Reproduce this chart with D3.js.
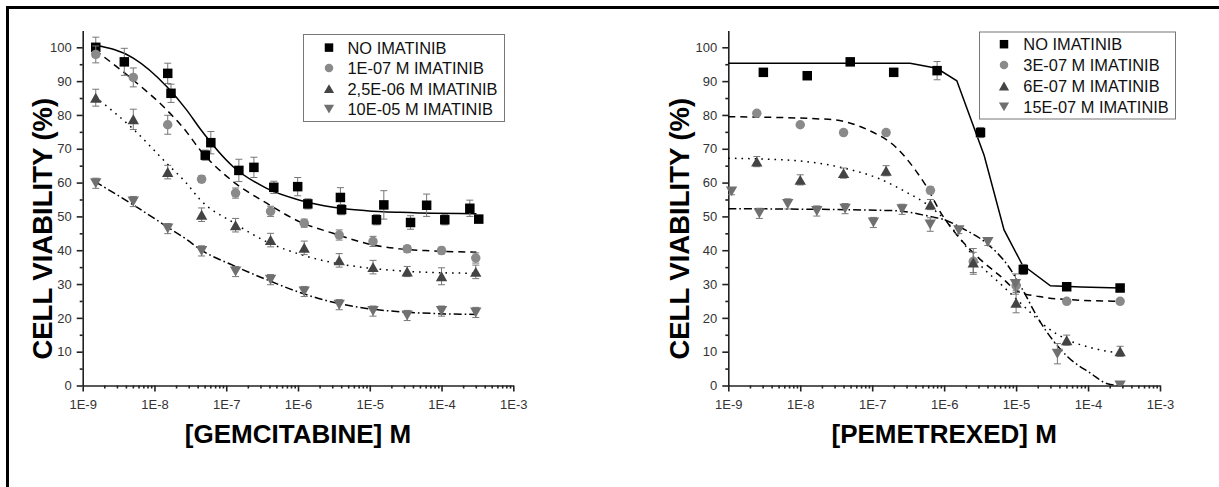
<!DOCTYPE html>
<html><head><meta charset="utf-8">
<script src="https://cdn.jsdelivr.net/npm/d3@7"></script>
<style>
body{margin:0;background:#fff}
svg{display:block}
text{font-family:"Liberation Sans",Arial,Helvetica,sans-serif}
</style>
</head><body>
<svg id="c" width="1219" height="487"></svg>
<script>
// ---------------- DATA ----------------
const xTickValues = [1e-9, 1e-8, 1e-7, 1e-6, 1e-5, 1e-4, 1e-3];
const xTickLabels = ["1E-9", "1E-8", "1E-7", "1E-6", "1E-5", "1E-4", "1E-3"];
const yTickValues = [0, 10, 20, 30, 40, 50, 60, 70, 80, 90, 100];
const yMinorValues = [5, 15, 25, 35, 45, 55, 65, 75, 85, 95];

const yTitle = "CELL VIABILITY (%)";
const gemTitle = "[GEMCITABINE] M";
const pemTitle = "[PEMETREXED] M";

const gemLegend = ["NO IMATINIB", "1E-07 M IMATINIB", "2,5E-06 M IMATINIB", "10E-05 M IMATINIB"];
const pemLegend = ["NO IMATINIB", "3E-07 M IMATINIB", "6E-07 M IMATINIB", "15E-07 M IMATINIB"];

// Gemcitabine panel
const gemNoImaConc = [1.52e-9, 3.8e-9, 1.53e-8, 1.7e-8, 5.1e-8, 6.1e-8, 1.5e-7, 2.43e-7, 4.6e-7, 9.9e-7, 1.37e-6, 3.9e-6, 4.05e-6, 1.24e-5, 1.57e-5, 3.7e-5, 6.2e-5, 1.11e-4, 2.48e-4, 3.3e-4];
const gemNoIma    = [100, 95.7, 92.3, 86.4, 68.1, 71.8, 63.6, 64.5, 58.6, 58.8, 53.7, 55.6, 52.0, 49.0, 53.4, 48.2, 53.3, 49.0, 52.4, 49.2];
const gemNoImaErr = [3, 4, 3, 2.7, 1.5, 3.3, 3.3, 3, 1.8, 2.7, 1.5, 2.9, 1.5, 1.5, 4.2, 2, 3.3, 1.5, 2.4, 1];

const gemConc   = [1.52e-9, 5.07e-9, 1.53e-8, 4.54e-8, 1.35e-7, 4.15e-7, 1.22e-6, 3.75e-6, 1.11e-5, 3.32e-5, 1.0e-4, 3.0e-4];
const gemIma1   = [97.9, 91.1, 77.1, 61.0, 56.9, 51.5, 48.0, 44.5, 42.6, 40.4, 39.9, 37.7];
const gemIma1Err= [2.5, 2.8, 2.8, 1, 1.5, 1.5, 1.2, 1.5, 1.5, 1, 1, 1.5];
const gemIma2   = [85.1, 78.7, 63.1, 50.5, 47.4, 43.0, 40.7, 37.0, 35.0, 33.7, 32.3, 33.6];
const gemIma2Err= [2.5, 3, 2, 2, 2, 2, 2, 2, 2, 1.5, 2.5, 2];
const gemIma3   = [59.8, 54.4, 46.4, 39.8, 33.7, 31.3, 27.8, 23.9, 22.0, 20.7, 22.0, 21.6];
const gemIma3Err= [1.5, 1.5, 1.5, 1.5, 1.5, 1.5, 1.5, 1.5, 1.5, 1.5, 1.5, 1.5];

const gemFitConc    = [1.48e-9, 5.07e-9, 1.48e-8, 2.8e-8, 4.3e-8, 1.25e-7, 3.66e-7, 1.06e-6, 3.09e-6, 9.0e-6, 2.62e-5, 7.6e-5, 3.07e-4];
const gemFitNoIma   = [100.7, 96.8, 88.4, 81.5, 76.0, 64.7, 58.3, 54.8, 52.7, 51.7, 51.2, 50.9, 50.8];
const gemFitIma1    = [99.2, 90.3, 81.5, 75.0, 69.7, 60.3, 53.9, 48.4, 45.0, 42.0, 40.4, 39.8, 39.4];
const gemFitIma2    = [85.4, 75.8, 65.7, 59.8, 55.0, 48.2, 42.5, 38.8, 36.3, 34.8, 33.9, 33.4, 33.2];
const gemFitIma3    = [60.3, 53.4, 47.0, 43.2, 40.3, 35.5, 31.3, 27.5, 24.6, 22.8, 21.8, 21.3, 21.0];

// Pemetrexed panel
const pemNoImaConc = [3.07e-9, 1.25e-8, 4.95e-8, 1.99e-7, 7.98e-7, 3.2e-6, 1.26e-5, 5.05e-5, 2.79e-4];
const pemNoIma     = [92.6, 91.6, 95.7, 92.6, 93.1, 74.8, 34.3, 29.2, 28.8];
const pemNoImaErr  = [0.5, 0.5, 0.5, 0.5, 2.7, 1.5, 1.5, 0.5, 0.5];

const pemConc     = [2.49e-9, 1e-8, 4e-8, 1.56e-7, 6.44e-7, 2.54e-6, 1e-5, 5.05e-5, 2.79e-4];
const pemIma1     = [80.5, 77.1, 74.8, 74.8, 57.7, 36.7, 29.5, 24.9, 24.9];
const pemIma1Err  = [0.5, 0.5, 0.5, 0.5, 1, 3.8, 1.5, 0.5, 0.5];
const pemIma2     = [66.2, 60.8, 62.8, 63.5, 53.5, 36.4, 24.5, 13.4, 10.1];
const pemIma2Err  = [1.5, 1.5, 1.5, 1.5, 1.5, 3, 3, 1.5, 1.5];

const pemIma3Conc = [1.11e-9, 2.7e-9, 6.7e-9, 1.7e-8, 4.2e-8, 1.04e-7, 2.6e-7, 6.4e-7, 1.6e-6, 4.05e-6, 9.8e-6, 3.75e-5, 2.79e-4];
const pemIma3     = [57.4, 50.9, 53.7, 51.6, 52.3, 48.2, 52.1, 47.6, 45.9, 42.4, 30.0, 9.4, 0];
const pemIma3Err  = [1, 1.5, 1.5, 1.5, 1.5, 1.5, 1.5, 2, 1, 1, 3, 3, 1];

const pemFitNoImaConc = [1e-9, 3.36e-7, 7.9e-7, 1.5e-6, 3.6e-6, 6.8e-6, 1.22e-5, 3.0e-5, 8e-5, 2.79e-4];
const pemFitNoIma     = [95.3, 95.3, 93.8, 90.1, 68.0, 46.0, 35.7, 29.5, 29.1, 28.8];
const pemFitIma1Conc  = [1e-9, 2.47e-8, 8.9e-8, 2.1e-7, 3.98e-7, 5.5e-7, 9.4e-7, 1.44e-6, 2.88e-6, 5.76e-6, 1.09e-5, 2.08e-5, 4.4e-5, 2.79e-4];
const pemFitIma1      = [79.5, 78.7, 75.5, 70.6, 63.7, 59.3, 50.4, 45.0, 38.1, 32.7, 27.7, 26.3, 25.5, 24.9];
const pemFitIma2Conc  = [1e-9, 8.5e-9, 4.2e-8, 1.2e-7, 2.9e-7, 6.0e-7, 1.08e-6, 1.8e-6, 3.0e-6, 6.1e-6, 1.35e-5, 2.57e-5, 5.2e-5, 1.09e-4, 2.79e-4];
const pemFitIma2      = [67.2, 66.5, 64.2, 61.3, 57.3, 53.3, 48.5, 42.5, 36.2, 30.0, 23.0, 17.5, 13.5, 11.2, 9.5];
const pemFitIma3Conc  = [1e-9, 2.1e-7, 6.0e-7, 1.04e-6, 1.78e-6, 3.76e-6, 7.9e-6, 1.22e-5, 2.08e-5, 5.2e-5, 1.09e-4, 1.86e-4, 2.79e-4];
const pemFitIma3      = [52.3, 51.7, 50.1, 48.9, 46.5, 42.3, 35.1, 28.5, 19.4, 8.5, 3.6, 0.5, 0];

// ---------------- STYLE ----------------
const markerStyles = [
  {shape: "square", fill: "#000000"},
  {shape: "circle", fill: "#8a8a8a"},
  {shape: "up",     fill: "#444444"},
  {shape: "down",   fill: "#707070"}
];
const dashes = [null, "7,5", "1.6,5", "8,3,1.6,3"];

const svg = d3.select("#c");
const Y_ZERO = 385.5, Y_TOP = 30.4;

// frame
svg.append("line").attr("x1", 6).attr("x2", 1219).attr("y1", 7.5).attr("y2", 7.5).attr("stroke", "#000").attr("stroke-width", 3);
svg.append("line").attr("x1", 7.5).attr("x2", 7.5).attr("y1", 6).attr("y2", 487).attr("stroke", "#000").attr("stroke-width", 3);

svg.append("defs").append("clipPath").attr("id", "clipY")
  .append("rect").attr("x", 0).attr("y", 0).attr("width", 1219).attr("height", Y_ZERO);

function markerPath(shape, s) {
  if (shape === "square") return `M${-s/2},${-s/2}h${s}v${s}h${-s}Z`;
  if (shape === "circle") { const r = s/2; return `M${r},0A${r},${r},0,1,1,${-r},0A${r},${r},0,1,1,${r},0Z`; }
  const w = s * 1.2, h = s * 1.05;
  if (shape === "up") return `M0,${-h/2}L${w/2},${h/2}L${-w/2},${h/2}Z`;
  return `M0,${h/2}L${w/2},${-h/2}L${-w/2},${-h/2}Z`;
}

function drawPanel(p) {
  const x = d3.scaleLog().domain([1e-9, 1e-3]).range([p.x0, p.x1]);
  const y = d3.scaleLinear().domain([0, 105]).range([Y_ZERO, Y_TOP]);
  const g = svg.append("g");

  // axes
  const minor = [];
  xTickValues.slice(0, -1).forEach(d => { for (let k = 2; k <= 9; k++) minor.push(d * k); });
  const axStyle = sel => {
    sel.selectAll("path,line").attr("stroke", "#222").attr("stroke-width", 1.6);
    sel.selectAll("text").attr("fill", "#333").attr("font-size", 13)
      .attr("font-family", '"Liberation Sans",Arial,sans-serif');
  };
  g.append("g").attr("transform", `translate(0,${Y_ZERO})`)
    .call(d3.axisBottom(x).tickValues(minor).tickSize(3).tickSizeOuter(0).tickFormat(""))
    .call(axStyle).select(".domain").remove();
  g.append("g").attr("transform", `translate(0,${Y_ZERO})`)
    .call(d3.axisBottom(x).tickValues(xTickValues).tickSize(6).tickPadding(8).tickSizeOuter(0)
      .tickFormat((d, i) => xTickLabels[i]))
    .call(axStyle);
  g.append("g").attr("transform", `translate(${p.x0},0)`)
    .call(d3.axisLeft(y).tickValues(yMinorValues).tickSize(3).tickSizeOuter(0).tickFormat(""))
    .call(axStyle).select(".domain").remove();
  g.append("g").attr("transform", `translate(${p.x0},0)`)
    .call(d3.axisLeft(y).tickValues(yTickValues).tickSize(6).tickPadding(5).tickSizeOuter(0))
    .call(axStyle);

  // titles
  svg.append("text").attr("transform", `translate(${p.yTitleX},228.7) rotate(-90)`)
    .attr("text-anchor", "middle").attr("font-size", 27.5).attr("font-weight", "bold").attr("fill", "#000")
    .text(yTitle);
  svg.append("text").attr("x", (p.x0 + p.x1) / 2).attr("y", 443.3)
    .attr("text-anchor", "middle").attr("font-size", 26).attr("font-weight", "bold").attr("fill", "#000")
    .text(p.xTitle);

  const plot = g.append("g").attr("clip-path", "url(#clipY)");

  // fitted curves
  p.fits.forEach((f, i) => {
    const line = d3.line().x(d => x(d[0])).y(d => y(d[1])).curve(f.linear ? d3.curveLinear : d3.curveMonotoneX);
    plot.append("path").datum(d3.zip(f.c, f.v)).attr("d", line)
      .attr("fill", "none").attr("stroke", "#000").attr("stroke-width", 1.5)
      .attr("stroke-dasharray", dashes[i]);
  });

  // series: error bars + markers
  p.series.forEach((s, i) => {
    const pts = d3.zip(s.c, s.v, s.e);
    const eb = plot.append("g").attr("stroke", "#777").attr("stroke-width", 1).attr("fill", "none");
    pts.forEach(d => {
      const cx = x(d[0]), t = y(d[1] + d[2]), b = y(d[1] - d[2]);
      eb.append("line").attr("x1", cx).attr("x2", cx).attr("y1", t).attr("y2", b);
      eb.append("line").attr("x1", cx - 3.5).attr("x2", cx + 3.5).attr("y1", t).attr("y2", t);
      eb.append("line").attr("x1", cx - 3.5).attr("x2", cx + 3.5).attr("y1", b).attr("y2", b);
    });
    plot.append("g").selectAll("path").data(pts).join("path")
      .attr("transform", d => `translate(${x(d[0])},${y(d[1])})`)
      .attr("d", markerPath(markerStyles[i].shape, 9.5))
      .attr("fill", markerStyles[i].fill);
  });

  // legend
  const L = p.legend;
  svg.append("rect").attr("x", L.x + 0.5).attr("y", L.y + 0.5).attr("width", L.w).attr("height", L.h)
    .attr("fill", "#fff").attr("stroke", "#777").attr("stroke-width", 1);
  p.legendLabels.forEach((lab, i) => {
    const cy = L.row0 + i * L.dy;
    svg.append("path").attr("transform", `translate(${L.sx},${cy})`)
      .attr("d", markerPath(markerStyles[i].shape, 8.5)).attr("fill", markerStyles[i].fill);
    svg.append("text").attr("x", L.tx).attr("y", cy + 5.9).attr("font-size", 16.4).attr("fill", "#111").text(lab);
  });
}

drawPanel({
  x0: 82.7, x1: 513.3, yTitleX: 51.7, xTitle: gemTitle,
  fits: [
    {c: gemFitConc, v: gemFitNoIma}, {c: gemFitConc, v: gemFitIma1},
    {c: gemFitConc, v: gemFitIma2}, {c: gemFitConc, v: gemFitIma3}
  ],
  series: [
    {c: gemNoImaConc, v: gemNoIma, e: gemNoImaErr},
    {c: gemConc, v: gemIma1, e: gemIma1Err},
    {c: gemConc, v: gemIma2, e: gemIma2Err},
    {c: gemConc, v: gemIma3, e: gemIma3Err}
  ],
  legendLabels: gemLegend,
  legend: {x: 303, y: 34, w: 201, h: 87, sx: 329, tx: 347.5, row0: 47.6, dy: 20.5}
});

drawPanel({
  x0: 728.3, x1: 1160, yTitleX: 688.5, xTitle: pemTitle,
  fits: [
    {c: pemFitNoImaConc, v: pemFitNoIma, linear: true}, {c: pemFitIma1Conc, v: pemFitIma1},
    {c: pemFitIma2Conc, v: pemFitIma2}, {c: pemFitIma3Conc, v: pemFitIma3}
  ],
  series: [
    {c: pemNoImaConc, v: pemNoIma, e: pemNoImaErr},
    {c: pemConc, v: pemIma1, e: pemIma1Err},
    {c: pemConc, v: pemIma2, e: pemIma2Err},
    {c: pemIma3Conc, v: pemIma3, e: pemIma3Err}
  ],
  legendLabels: pemLegend,
  legend: {x: 979, y: 31.5, w: 196, h: 87, sx: 1004, tx: 1023.3, row0: 44.2, dy: 20.9}
});
</script>
</body></html>
